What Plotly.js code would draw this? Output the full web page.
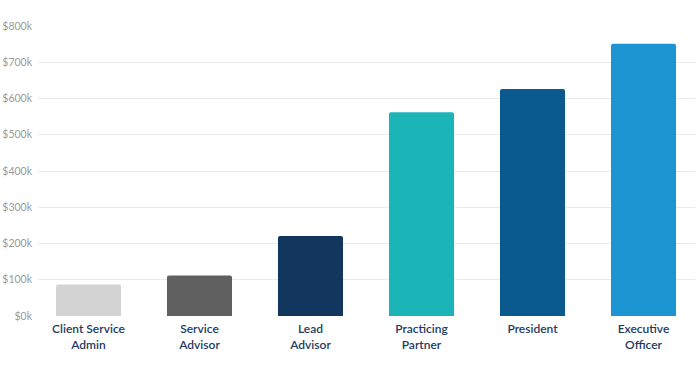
<!DOCTYPE html>
<html>
<head>
<meta charset="utf-8">
<script src="https://cdn.plot.ly/plotly-3.0.1.min.js"></script>
<style>html,body{margin:0;padding:0;background:#fff;}#chart{width:700px;height:375px;}</style>
</head>
<body>
<div id="chart"></div>
<script>
const categories = ["Client Service<br>Admin", "Service<br>Advisor", "Lead<br>Advisor", "Practicing<br>Partner", "President", "Executive<br>Officer"];
const salaries = [87000, 112000, 221000, 562000, 626000, 751000];
const barColors = ["#d3d3d3", "#606060", "#12365e", "#1cb5b7", "#0a5a90", "#1e95d3"];
const tickValues = [0, 100000, 200000, 300000, 400000, 500000, 600000, 700000, 800000];
const tickLabels = ["$0k", "$100k", "$200k", "$300k", "$400k", "$500k", "$600k", "$700k", "$800k"];

const trace = {
  type: "bar",
  x: categories.map((c, i) => i),
  y: salaries,
  marker: {color: barColors, line: {width: 0}},
  hoverinfo: "skip"
};

const layout = {
  width: 700, height: 375,
  margin: {l: 38, r: 5, t: 26, b: 58.5},
  paper_bgcolor: "#ffffff",
  plot_bgcolor: "#ffffff",
  showlegend: false,
  bargap: 0.414,
  barcornerradius: 2,
  font: {family: "Lato, 'Open Sans', sans-serif"},
  xaxis: {
    range: [-0.455, 5.464],
    tickmode: "array",
    tickvals: categories.map((c, i) => i),
    ticktext: categories,
    tickfont: {size: 12, color: "#1e3a5f", family: "Lato, sans-serif", weight: 600},
    showgrid: false, zeroline: false, showline: false, ticks: "",
    ticklabelstandoff: 4,
    fixedrange: true
  },
  yaxis: {
    range: [0, 800000],
    tickmode: "array",
    tickvals: tickValues,
    ticktext: tickLabels,
    tickfont: {size: 10.5, color: "#9a9a9a", family: "Lato, sans-serif"},
    showgrid: true, gridcolor: "#ebebeb", gridwidth: 1,
    zeroline: false, showline: false, ticks: "",
    ticklabelstandoff: 5,
    fixedrange: true
  }
};

Plotly.newPlot("chart", [trace], layout, {displayModeBar: false, staticPlot: true});
</script>
</body>
</html>
